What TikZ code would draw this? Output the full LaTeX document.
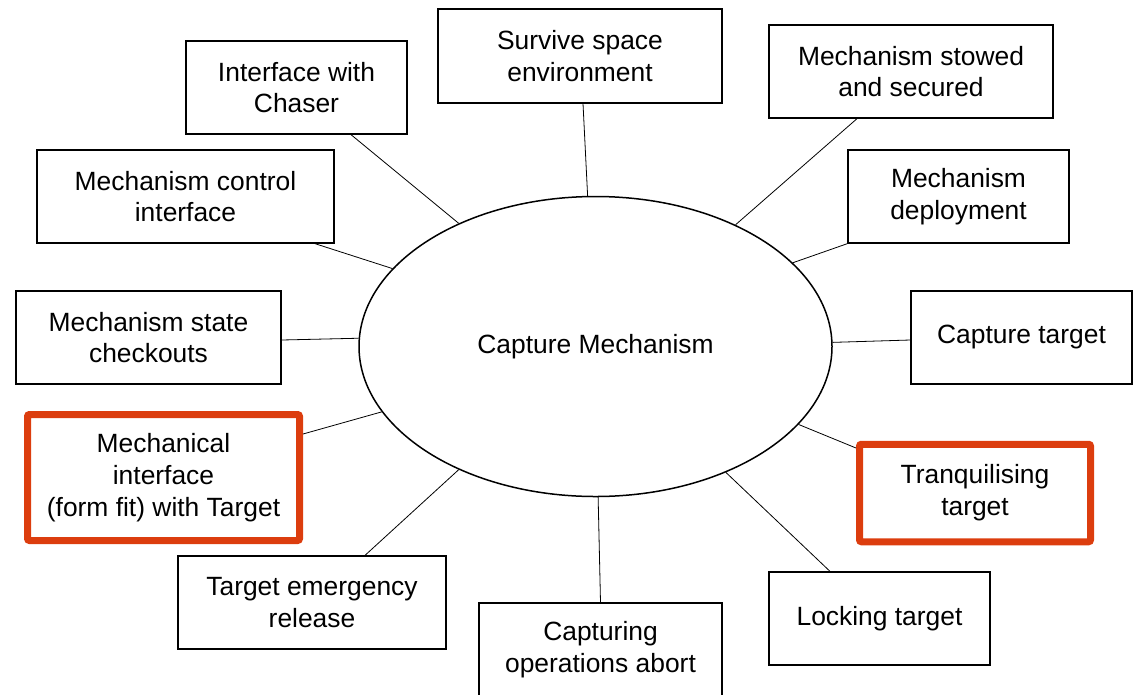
\documentclass[tikz,border=0pt]{standalone}
\usepackage{fontspec}
\setmainfont{Liberation Sans}
\usetikzlibrary{shapes.geometric}
\definecolor{hilite}{RGB}{220,61,14}
\begin{document}
\begin{tikzpicture}[x=1pt,y=-1pt,
  every node/.style={font=\fontsize{26.4}{31.7}\selectfont, align=center, inner sep=0pt},
  item/.style 2 args={draw=black, line width=1.3pt, rectangle, minimum width=#1, minimum height=#2},
  focus/.style 2 args={draw=hilite, line width=7pt, rectangle, rounded corners=2pt, minimum width=#1, minimum height=#2},
  link/.style={draw=black, line width=0.8pt},
  hub/.style={ellipse, draw=black, line width=1.5pt, minimum width=473pt, minimum height=300pt}
]
\useasboundingbox (0,0) rectangle (1134,694);

% central function
\node[hub] (core) at (595.5,346.5) {Capture Mechanism};

% surrounding functions
\node[item={221pt}{93pt}] (chaser)  at (296.5,87.5)  {Interface with\\Chaser};
\node[item={284pt}{94pt}] (survive) at (580,56)      {Survive space\\environment};
\node[item={284pt}{93pt}] (stowed)  at (911,71.5)    {Mechanism stowed\\and secured};
\node[item={297pt}{93pt}] (control) at (185.5,196.5) {Mechanism control\\interface};
\node[item={221pt}{93pt}] (deploy)  at (958.5,196.5) {Mechanism\\deployment};
\node[item={265pt}{93pt}] (state)   at (148.5,337.5) {Mechanism state\\checkouts};
\node[item={221pt}{93pt}] (capture) at (1021.5,337.5) {Capture target};
\node[focus={272pt}{126pt}] (formfit) at (163.5,477.5) {Mechanical\\interface\\(form fit) with Target};
\node[focus={231pt}{97.5pt}] (tranq) at (975,493)    {Tranquilising\\target};
\node[item={268pt}{93pt}] (release) at (312,602.5)   {Target emergency\\release};
\node[item={243pt}{93pt}] (abort)   at (600.5,649.5) {Capturing\\operations abort};
\node[item={221pt}{93pt}] (locking) at (879.5,618.5) {Locking target};

% connectors from each function to the mechanism
\draw[link] ([xshift=54.5pt]chaser.south) -- (core.138.9);
\draw[link] ([xshift=3pt]survive.south) -- (core.93.2);
\draw[link] ([xshift=-54pt]stowed.south) -- (core.41.3);
\draw[link] ([xshift=129.5pt]control.south) -- (core.159.8);
\draw[link] (deploy.south west) -- (core.23.1);
\draw[link] ([yshift=-2.5pt]state.east) -- (core.178.9);
\draw[link] ([yshift=-2.5pt]capture.west) -- (core.1.3);
\draw[link] ([yshift=43.5pt]formfit.east) -- (core.197.05);
\draw[link] ([yshift=45pt]tranq.west) -- (core.339.1);
\draw[link] ([xshift=53pt]release.north) -- (core.222.1);
\draw[link] (abort.north) -- (core.271);
\draw[link] ([xshift=-49.5pt]locking.north) -- (core.316.3);
\end{tikzpicture}
\end{document}
